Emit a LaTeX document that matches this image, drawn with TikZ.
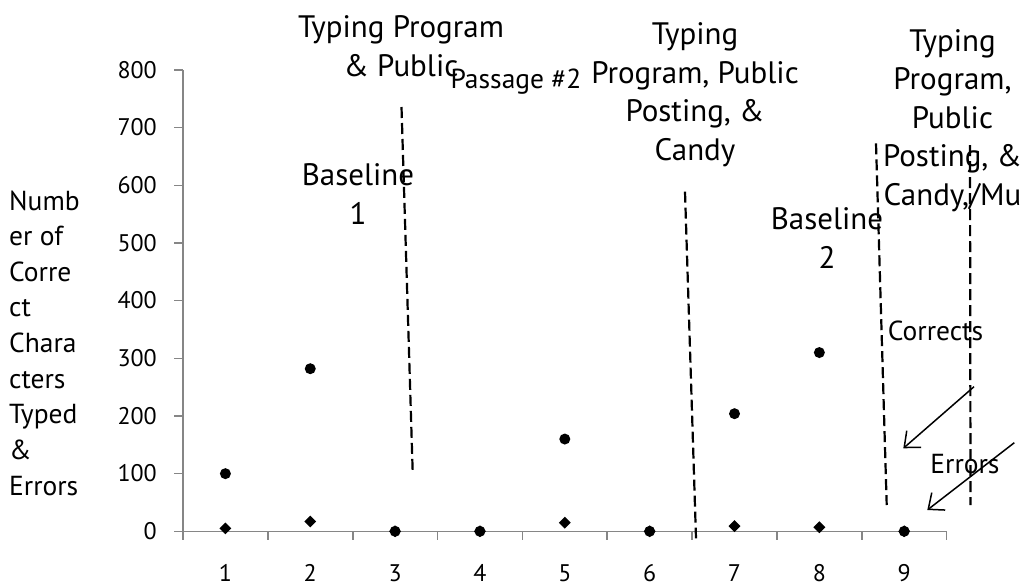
\documentclass[tikz,border=0pt]{standalone}
\usepackage{fontspec}
\setmainfont{PT Sans}
\usetikzlibrary{arrows.meta,shapes.geometric}
\definecolor{axisgray}{HTML}{868686}
\begin{document}
\begin{tikzpicture}[x=1pt,y=-1pt,
  axisline/.style={draw=axisgray, line width=1.6pt},
  divider/.style={draw=black, line width=2.2pt, dash pattern=on 11pt off 5pt},
  pointer/.style={draw=black, line width=1.5pt, -{Straight Barb[length=13pt,width=22pt]}},
  correct/.style={circle, fill=black, inner sep=0pt, minimum size=11pt},
  errmark/.style={diamond, fill=black, inner sep=0pt, minimum size=12pt},
  ticklab/.style={font=\fontsize{24}{28}\selectfont, inner sep=0pt},
  note/.style={font=\fontsize{31}{38.5}\selectfont, align=center, inner sep=0pt},
  smallnote/.style={font=\fontsize{27.5}{33}\selectfont, inner sep=0pt}
]
\useasboundingbox (0,0) rectangle (1030,587);
% axes
\draw[axisline] (183,70) -- (183,531.3) -- (946.7,531.3);
\foreach \v in {0,100,...,800} {
  \draw[axisline] (174,{531.3-0.5766*\v}) -- (183,{531.3-0.5766*\v});
  \node[ticklab, anchor=base east] (yl\v) at (157,{531.3-0.5766*\v+8.3}) {\v};
}
\foreach \k in {0,...,9} {
  \draw[axisline] ({183+84.85*\k},531.3) -- ({183+84.85*\k},540);
}
\foreach \i in {1,...,9} {
  \node[ticklab, anchor=base] (xl\i) at ({225.4+84.85*(\i-1)},581.7) {\i};
}
% axis title (anchor = baseline of the last line)
\node[font=\fontsize{27.5}{35.65}\selectfont, align=left, inner sep=0pt, anchor=base west] (ytitle) at (9,495.2)
  {Numb\\er of\\Corre\\ct\\Chara\\cters\\Typed\\\&\\Errors};
% data: errors
\foreach \i/\v in {1/5,2/17,3/0,4/0,5/15,6/0,7/9,8/7,9/0} {
  \node[errmark] (e\i) at ({225.4+84.85*(\i-1)},{531.3-0.5766*\v}) {};
}
% data: corrects
\foreach \i/\v in {1/100,2/282,3/0,4/0,5/160,6/0,7/204,8/310,9/0} {
  \node[correct] (c\i) at ({225.4+84.85*(\i-1)},{531.3-0.5766*\v}) {};
}
% phase dividers
\coordinate (d1t) at (401.5,107);
\coordinate (d1b) at (412.7,472.3);
\coordinate (d2t) at (685,191.7);
\coordinate (d2b) at (696,538.3);
\coordinate (d3t) at (876,143.3);
\coordinate (d3b) at (886.7,505);
\coordinate (d4t) at (970,145);
\coordinate (d4b) at (970.5,505);
\draw[divider] (d1t) -- (d1b);
\draw[divider] (d2t) -- (d2b);
\draw[divider] (d3t) -- (d3b);
\draw[divider] (d4t) -- (d4b);
% phase labels (anchor = baseline of the last line)
\node[note, anchor=base] (p1) at (401,76) {Typing Program\\\& Public};
\node[smallnote, anchor=base] (p2) at (516,88) {Passage \#2};
\node[note, anchor=base] (b1) at (358,224) {Baseline\\1};
\node[note, anchor=base] (p3) at (695,160) {Typing\\Program, Public\\Posting, \&\\Candy};
\node[note, anchor=base] (b2) at (827,268) {Baseline\\2};
\node[note, anchor=base] (p4) at (952.5,205) {Typing\\Program,\\Public\\Posting, \&\\Candy,/Mu};
% legend labels and pointers
\node[smallnote, anchor=base] (lc) at (935.5,340) {Corrects};
\node[smallnote, anchor=base] (le) at (965,473.3) {Errors};
\coordinate (a1s) at (974,386.7);
\coordinate (a1e) at (903.3,448.3);
\coordinate (a2s) at (1014.3,442.7);
\coordinate (a2e) at (927.3,510);
\draw[pointer] (a1s) -- (a1e);
\draw[pointer] (a2s) -- (a2e);
\end{tikzpicture}
\end{document}
